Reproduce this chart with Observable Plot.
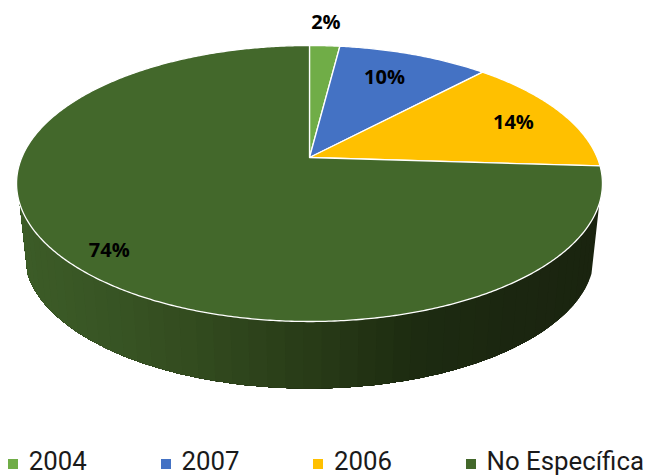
<!DOCTYPE html>
<html>
<head>
<meta charset="utf-8">
<script src="https://cdn.jsdelivr.net/npm/d3@7"></script>
<script src="https://cdn.jsdelivr.net/npm/@observablehq/plot@0.6"></script>
<style>
  html, body { margin: 0; padding: 0; background: #fff; overflow: hidden; width: 646px; height: 476px; }
  #legend { position: relative; height: 30px; font: 25.8px Roboto, sans-serif; color: #1a1a1a; white-space: nowrap; }
  #legend .items { display: flex; gap: 73.8px; padding: 0 0 0 8px; height: 30px; align-items: center; line-height: 30px; }
  #legend .item { display: flex; align-items: center; gap: 10.8px; }
  #legend .sw { width: 10px; height: 10px; display: inline-block; position: relative; top: 3px; }
</style>
</head>
<body>
<div id="chart"></div>
<div id="legend"><div class="items"></div></div>
<script>
// Data
const categories = ["2004", "2007", "2006", "No Específica"];
const percents = [2, 10, 14, 74];
const colors = ["#70ad47", "#4472c4", "#ffc000", "#43682b"];
const labelRadius = [1.26, 0.74, 0.795, 0.87];
const labelTurn = [-0.4, -1.8, 1.3, -1.8];
const wallStops = [0, 0.15, 0.33, 0.5, 0.67, 0.85, 1];
const wallColors = ["#3c5c27", "#385524", "#31491e", "#283b17", "#1d2c11", "#1b2610", "#1a240f"];

// Perspective of the tilted disc
const W = 646, H = 446;
const apexX = 309, apexY = 157;
const unitX = 287.7, unitY = 133.1, tilt = 0.1884;
const floorScale = 0.973, floorDrop = 0.5365;
const wallFrom = 109, wallTo = 251, wallStep = 3;

const rad = (a) => (a * Math.PI) / 180;
function project(deg, r = 1, scale = 1, drop = 0) {
  const px = r * Math.sin(rad(deg));
  const py = r * Math.cos(rad(deg));
  const w = 1 + tilt * py;
  return { x: (scale * px) / w, y: (scale * py) / w - drop };
}

const total = d3.sum(percents);
let running = 0;
const sliceAngles = percents.map((v) => {
  const a0 = (running / total) * 360;
  running += v;
  return [a0, (running / total) * 360];
});

const slicePoints = [];
sliceAngles.forEach(([a0, a1], i) => {
  slicePoints.push({ slice: categories[i], color: colors[i], ...project(0, 0) });
  const n = Math.max(2, Math.ceil(a1 - a0) * 2);
  for (let j = 0; j <= n; ++j) {
    slicePoints.push({ slice: categories[i], color: colors[i], ...project(a0 + ((a1 - a0) * j) / n) });
  }
  slicePoints.push({ slice: categories[i], color: colors[i], ...project(0, 0) });
});

// Wall: painted from the far right end leftwards, each band reaching under the next,
// so the bands never leave a seam between them.
const shade = d3.scaleLinear().domain(wallStops).range(wallColors).interpolate(d3.interpolateRgb);
const wallPoints = [];
const edgeX = 1 / Math.sqrt(1 - tilt * tilt);
for (let a = wallFrom; a < wallTo; a += wallStep) {
  const arc = d3.range(a, wallTo + 0.01, 1).map((t) => project(t));
  const floor = d3.range(wallTo, a - 0.01, -1).map((t) => project(t, 1, floorScale, floorDrop));
  const mid = project(a + wallStep / 2);
  const color = d3.rgb(shade((mid.x + edgeX) / (2 * edgeX))).formatHex();
  [...arc, ...floor, arc[0]].forEach((p) => wallPoints.push({ strip: a, color, ...p }));
}

const labels = sliceAngles.map(([a0, a1], i) => ({
  text: percents[i] + "%",
  ...project((a0 + a1) / 2 + labelTurn[i], labelRadius[i])
}));

const chart = Plot.plot({
  width: W,
  height: H,
  margin: 0,
  x: { axis: null, domain: [-apexX / unitX, (W - apexX) / unitX], range: [0, W] },
  y: { axis: null, domain: [apexY / unitY, -(H - apexY) / unitY], range: [0, H] },
  style: { background: "transparent" },
  marks: [
    Plot.line(wallPoints, { x: "x", y: "y", z: "strip", fill: "color", stroke: null }),
    Plot.line(slicePoints, { x: "x", y: "y", z: "slice", fill: "color", stroke: "#fff", strokeWidth: 1.3, strokeLinejoin: "round" }),
    Plot.text(labels, { x: "x", y: "y", text: "text", fontSize: 20, fontWeight: 700, fontFamily: "Open Sans", fill: "#000" })
  ]
});
document.getElementById("chart").appendChild(chart);
chart.style.display = "block";

d3.select("#legend .items").selectAll(".item").data(categories).join("div").attr("class", "item")
  .each(function (d, i) {
    const item = d3.select(this);
    item.append("span").attr("class", "sw").style("background", colors[i]);
    item.append("span").text(d);
  });
</script>
</body>
</html>
